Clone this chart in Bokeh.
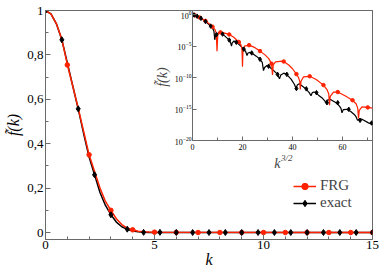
import numpy as np
from bokeh.plotting import figure
from bokeh.models import (FixedTicker, Label, Legend, LegendItem, LogTickFormatter, Range1d)
from bokeh.embed import file_html
from bokeh.resources import INLINE

# ---------------- data: main panel (linear) ----------------
main_k = [0.0, 0.25, 0.5, 0.75, 1.0, 1.25, 1.5, 1.75, 2.0, 2.25, 2.5, 2.75, 3.0,
          3.25, 3.5, 3.75, 4.0, 4.25, 4.5, 4.75, 5.0, 15.0]
exact_main_f = [1.0, 0.985, 0.94, 0.868, 0.765, 0.66, 0.557, 0.445, 0.34, 0.26, 0.18,
                0.122, 0.08, 0.047, 0.026, 0.014, 0.007, 0.003, 0.0012, 0.0005, 0.0002, 0.0]
frg_main_f = [1.0, 0.985, 0.94, 0.87, 0.757, 0.66, 0.56, 0.455, 0.35, 0.275, 0.2,
              0.14, 0.10, 0.062, 0.036, 0.02, 0.012, 0.006, 0.003, 0.0018, 0.0015, 0.0]

# markers (shared by main panel and inset)
frg_marker_k = [0, 1, 2, 3, 4, 5, 6, 7, 8, 9, 10, 11, 12, 13, 14, 15, 16, 17]
frg_marker_f = [1.0, 0.755, 0.35, 0.10, 1.2e-2, 1.5e-3, 7.0e-4, 4.5e-5, 1.4e-5, 1.6e-6,
                1.6e-8, 3.5e-8, 3.5e-10, 1.6e-10, 6.3e-12, 5.0e-13, 2.5e-14, 1.8e-15]
exact_marker_k = [0.0, 0.75, 1.5, 2.25, 3.0, 3.75, 4.5, 5.25, 6.0, 6.75, 7.5, 8.25,
                  9.0, 9.75, 10.5, 11.25, 12.0, 12.75, 13.5, 14.25, 15.0, 15.75, 16.5, 17.25]
exact_marker_f = [1.0, 0.868, 0.557, 0.26, 0.08, 0.015, 6.3e-4, 8.0e-4, 9.0e-5, 4.0e-5,
                  3.2e-6, 8.0e-7, 8.0e-8, 6.3e-9, 3.2e-10, 3.2e-10, 1.8e-12, 1.6e-12,
                  4.0e-13, 1.0e-14, 1.0e-14, 9.0e-16, 1.6e-17, 6.0e-18]

# ---------------- data: inset (x = k^{3/2}, log10 |f|) ----------------
inset_frg_x = [0, 1, 2, 2.83, 4, 5.2, 6.5, 8, 9, 9.5, 9.8,
               10.1, 10.5, 11.18, 12.5, 14.7, 16.5, 18.52, 19.4, 19.8, 20.0,
               20.2, 20.8, 22.63, 25.0, 27.0, 29.0, 30.5, 31.62, 32.0,
               32.3, 33.2, 35.9, 36.48, 38.5, 40.0, 41.57, 42.4, 42.9, 43.1,
               43.4, 44.4, 46.87, 49.5, 52.38, 53.8, 54.5, 54.8,
               55.1, 56.4, 58.09, 61.0, 64.0, 65.5, 66.1, 66.4,
               66.7, 67.8, 70.09, 72.0]
inset_frg_log10 = [0, -0.12, -0.3, -0.46, -0.7, -1.0, -1.42, -1.92, -2.4, -2.9, -5.8,
                   -3.3, -2.95, -2.83, -2.9, -3.15, -3.6, -4.35, -4.8, -5.6, -8.3,
                   -5.6, -5.0, -4.85, -5.25, -5.8, -6.4, -7.0, -7.8, -9.6,
                   -8.0, -7.5, -7.4, -7.45, -8.0, -8.6, -9.45, -10.0, -10.6, -11.9,
                   -10.6, -9.9, -9.8, -10.3, -11.2, -11.9, -12.6, -14.4,
                   -13.0, -12.3, -12.3, -12.9, -13.6, -14.2, -14.9, -16.5,
                   -15.2, -14.65, -14.75, -14.85]
inset_exact_x = [0, 0.65, 1.84, 3.375, 5.2, 7.26, 8.2, 8.6, 8.9,
                 9.2, 9.55, 10.5, 11.2, 12.03, 13.2, 14.7, 15.2, 15.6,
                 15.9, 16.6, 17.53, 18.5, 20.54, 21.3, 21.8,
                 22.2, 23.0, 23.7, 25.5, 27.0, 27.9, 28.4,
                 28.8, 29.8, 30.43, 32.5, 34.0, 34.8,
                 35.3, 36.5, 37.65, 39.5, 40.8, 41.4,
                 41.9, 42.7, 44.4, 45.3, 46.7, 47.4,
                 47.9, 48.6, 49.3, 50.4, 52.0, 52.9, 53.3,
                 53.8, 55.2, 57.4, 58.7, 59.4, 59.8,
                 60.3, 61.7, 63.3, 64.8, 65.5, 66.0,
                 66.6, 67.6, 70.4, 72.0]
inset_exact_log10 = [0, -0.06, -0.25, -0.585, -1.1, -1.82, -2.3, -2.7, -4.0,
                     -3.4, -3.2, -2.85, -2.9, -3.1, -3.5, -4.05, -4.4, -5.0,
                     -4.5, -4.2, -4.4, -4.7, -5.5, -5.9, -6.5,
                     -6.1, -6.0, -6.1, -6.6, -7.1, -7.6, -8.9,
                     -8.4, -8.1, -8.2, -8.9, -9.5, -10.2,
                     -9.6, -9.3, -9.5, -10.3, -11.1, -11.75,
                     -11.2, -11.0, -11.5, -11.8, -12.4, -12.9,
                     -12.4, -12.3, -12.4, -12.8, -13.3, -13.7, -14.0,
                     -13.6, -13.5, -14.0, -14.5, -14.9, -15.6,
                     -15.1, -15.05, -15.4, -15.9, -16.3, -16.8,
                     -16.6, -16.6, -17.2, -17.45]

# ticks
main_x_ticks = [0, 5, 10, 15]
main_x_minor = [1, 2, 3, 4, 6, 7, 8, 9, 11, 12, 13, 14]
main_y_ticks = [0.0, 0.2, 0.4, 0.6, 0.8, 1.0]
main_y_tick_labels = ["0", "0,2", "0,4", "0,6", "0,8", "1"]
main_y_minor = [0.1, 0.3, 0.5, 0.7, 0.9]
inset_x_ticks = [0, 20, 40, 60]
inset_x_minor = [10, 30, 50, 70]
inset_y_ticks = [1e-20, 1e-15, 1e-10, 1e-5, 1.0]

RED = "#ff2200"
BLACK = "#000000"
GRAY = "#6a6a6a"
FONT = "Liberation Serif"


def style_axis(ax, size):
    ax.axis_line_color = GRAY
    ax.major_tick_line_color = GRAY
    ax.minor_tick_line_color = GRAY
    ax.major_tick_out = 0
    ax.minor_tick_out = 0
    ax.major_label_text_font = FONT
    ax.major_label_text_font_size = size
    ax.major_label_text_color = "black"
    ax.axis_label_text_font = FONT
    ax.axis_label_text_font_style = "italic"
    ax.axis_label_text_color = "black"


# ---------------- main figure ----------------
p = figure(width=380, height=273, x_range=Range1d(0, 15), y_range=Range1d(-0.0315, 1.0),
           output_backend="svg", toolbar_location=None,
           min_border_left=45, min_border_right=8, min_border_top=10, min_border_bottom=34)
p.grid.visible = False
p.outline_line_color = GRAY
p.border_fill_color = "white"

for ax in [p.xaxis[0], p.yaxis[0]]:
    style_axis(ax, "13px")
    ax.major_tick_in = 5
    ax.minor_tick_in = 3
p.xaxis.ticker = FixedTicker(ticks=main_x_ticks, minor_ticks=main_x_minor)
p.yaxis.ticker = FixedTicker(ticks=main_y_ticks, minor_ticks=main_y_minor)
p.yaxis.major_label_overrides = dict(zip(main_y_ticks, main_y_tick_labels))
p.xaxis.major_label_standoff = 1
p.yaxis.major_label_standoff = 2
p.xaxis.axis_label = "k"
p.xaxis.axis_label_text_font_size = "16px"
p.xaxis.axis_label_standoff = -1
p.yaxis.axis_label = "f̃(k)"
p.yaxis.axis_label_text_font_size = "16px"
p.yaxis.axis_label_standoff = 2

r_bl = p.line(main_k, exact_main_f, line_color=BLACK, line_width=1.5)
r_rl = p.line(main_k, frg_main_f, line_color=RED, line_width=1.5)
r_rp = p.scatter(frg_marker_k, frg_marker_f, marker="circle", size=4.5, color=RED)
r_bp = p.scatter(exact_marker_k, exact_marker_f, marker="diamond", size=6, color=BLACK)

# inset axis titles, drawn inside the main frame next to the inset
p.add_layout(Label(x=10.64, y=0.311, text="k", text_align="center", text_baseline="middle",
                   text_font=FONT, text_font_style="italic", text_font_size="14px"))
p.add_layout(Label(x=10.8, y=0.336, text="3/2", text_align="left", text_baseline="middle",
                   text_font=FONT, text_font_style="italic", text_font_size="9px"))
p.add_layout(Label(x=5.37, y=0.70, text="f̃(k)", angle=np.pi / 2, text_align="center",
                   text_baseline="middle", text_font=FONT, text_font_style="italic",
                   text_font_size="14px"))

legend = Legend(items=[LegendItem(label="FRG", renderers=[r_rl, r_rp]),
                       LegendItem(label="exact", renderers=[r_bl, r_bp])],
                location=(248, 28), glyph_width=23, glyph_height=16, label_height=16,
                label_standoff=4, spacing=0, padding=0, margin=0,
                border_line_alpha=0, background_fill_alpha=0,
                label_text_font=FONT, label_text_font_size="15px")
p.add_layout(legend)

# ---------------- inset (separate root, placed over the main plot) ----------------
ins = figure(width=240, height=156, x_range=Range1d(0, 72),
             y_range=Range1d(1e-20, 10 ** 0.65),
             y_axis_type="log", output_backend="svg", toolbar_location=None,
             min_border_left=52, min_border_right=8, min_border_top=10, min_border_bottom=16)
ins.grid.visible = False
ins.outline_line_color = GRAY
ins.background_fill_alpha = 0
ins.border_fill_alpha = 0
for ax in [ins.xaxis[0], ins.yaxis[0]]:
    style_axis(ax, "8px")
    ax.major_tick_in = 4
    ax.minor_tick_in = 3
ins.xaxis.ticker = FixedTicker(ticks=inset_x_ticks, minor_ticks=inset_x_minor)
ins.yaxis.ticker = FixedTicker(ticks=inset_y_ticks, minor_ticks=[])
ins.yaxis.formatter = LogTickFormatter()
ins.xaxis.major_label_standoff = 3
ins.yaxis.major_label_standoff = 1

ins.line(inset_exact_x, np.power(10.0, inset_exact_log10), line_color=BLACK, line_width=1.2)
ins.line(inset_frg_x, np.power(10.0, inset_frg_log10), line_color=RED, line_width=1.2)
ins.scatter(np.power(frg_marker_k, 1.5), frg_marker_f, marker="circle", size=3.5, color=RED)
ins.scatter(np.power(exact_marker_k, 1.5), exact_marker_f, marker="diamond", size=4.5, color=BLACK)

ins.styles = {"position": "absolute", "left": "140px", "top": "0px"}

open("out.html", "w").write(file_html([p, ins], INLINE))
